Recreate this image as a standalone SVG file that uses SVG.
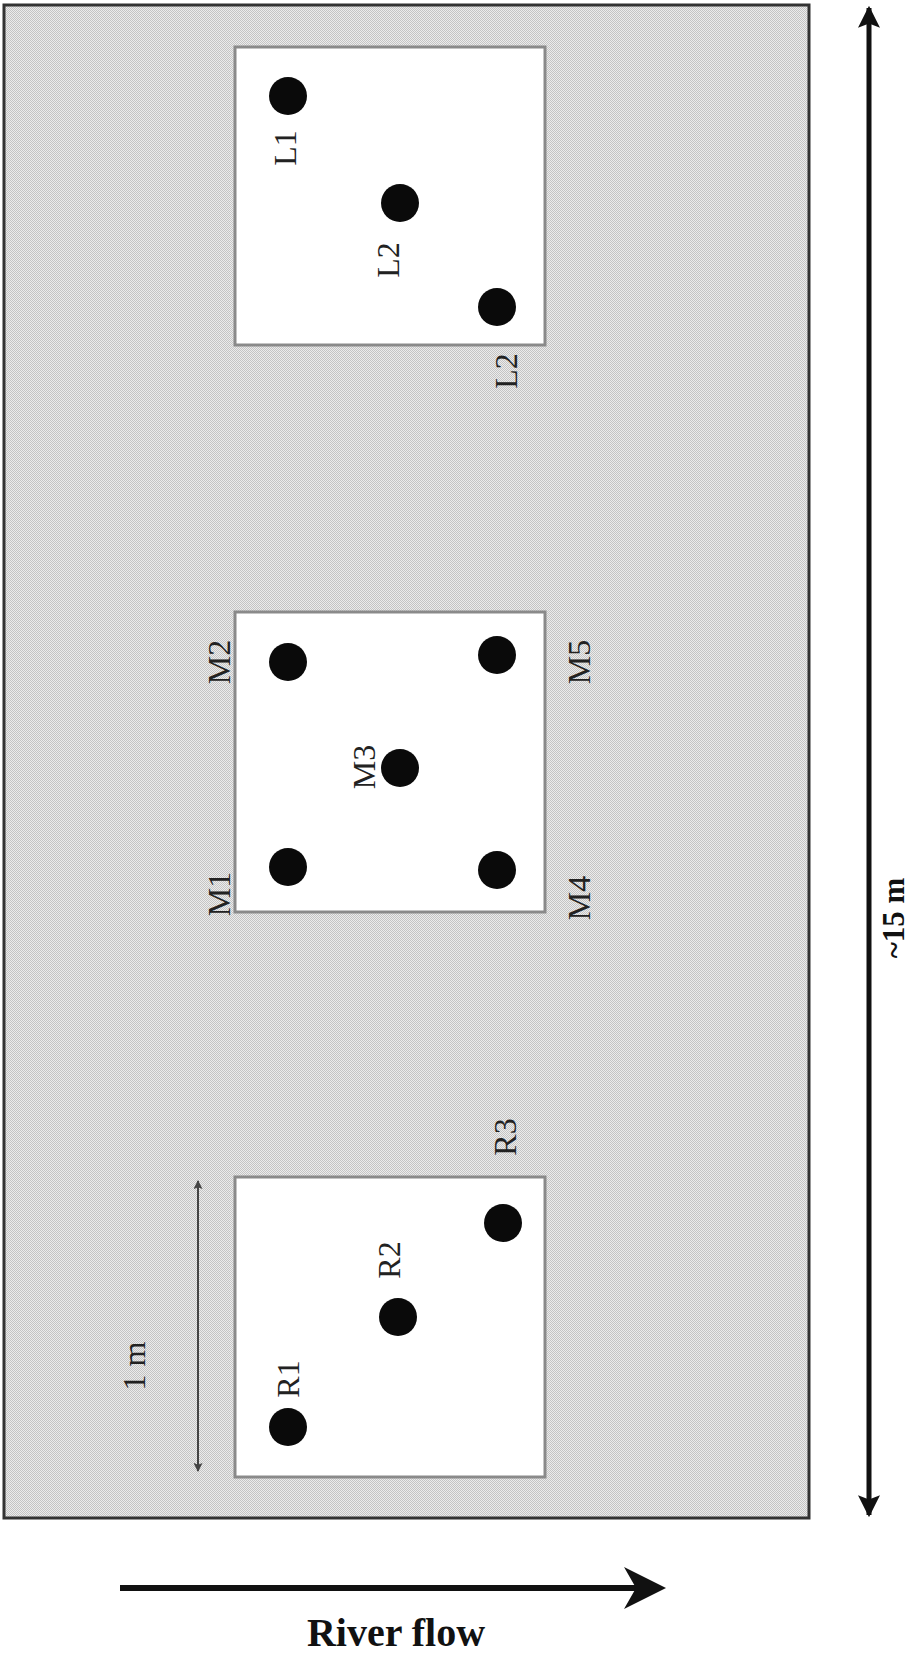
<svg xmlns="http://www.w3.org/2000/svg" width="916" height="1657" viewBox="0 0 916 1657">
<style>
.lbl{font-family:"Liberation Serif","Times New Roman",serif;font-size:32px;fill:#222;text-anchor:middle;dominant-baseline:central}
.bold{font-family:"Liberation Serif","Times New Roman",serif;font-weight:bold;fill:#111;text-anchor:middle;dominant-baseline:central}
.plot{fill:#fff;stroke:#8a8a8a;stroke-width:3}
.dot{fill:#0a0a0a}
</style>
<defs>
<pattern id="dither" width="2" height="2" patternUnits="userSpaceOnUse">
<rect width="2" height="2" fill="#ececec"/>
<rect width="1" height="1" fill="#c4c4c4"/>
<rect x="1" y="1" width="1" height="1" fill="#c4c4c4"/>
</pattern>
<marker id="bigHead" viewBox="0 0 10 10" refX="9" refY="5" markerWidth="4.4" markerHeight="4.4" orient="auto-start-reverse" markerUnits="strokeWidth">
<path d="M0,0 L10,5 L0,10 L2,5 Z" fill="#111"/>
</marker>
<marker id="smallHead" viewBox="0 0 10 10" refX="9" refY="5" markerWidth="5" markerHeight="4.5" orient="auto-start-reverse" markerUnits="strokeWidth">
<path d="M0,0 L10,5 L0,10 L2,5 Z" fill="#444"/>
</marker>
</defs>

<g id="channel">
<rect x="4" y="5" width="805" height="1513" fill="url(#dither)" stroke="#333" stroke-width="3"/>
</g>

<g id="plot-L">
<rect class="plot" x="235" y="47" width="310" height="298"/>
<circle class="dot" cx="288" cy="96" r="19"/>
<circle class="dot" cx="400" cy="203" r="19"/>
<circle class="dot" cx="497" cy="307" r="19"/>
<text class="lbl" transform="translate(285,148) rotate(-90)">L1</text>
<text class="lbl" transform="translate(388,260) rotate(-90)">L2</text>
<text class="lbl" transform="translate(506,371) rotate(-90)">L2</text>
</g>

<g id="plot-M">
<rect class="plot" x="235" y="612" width="310" height="300"/>
<circle class="dot" cx="288" cy="662" r="19"/>
<circle class="dot" cx="497" cy="655" r="19"/>
<circle class="dot" cx="400" cy="768" r="19"/>
<circle class="dot" cx="288" cy="867" r="19"/>
<circle class="dot" cx="497" cy="870" r="19"/>
<text class="lbl" transform="translate(219,662) rotate(-90)">M2</text>
<text class="lbl" transform="translate(219,894) rotate(-90)">M1</text>
<text class="lbl" transform="translate(364,767) rotate(-90)">M3</text>
<text class="lbl" transform="translate(579,662) rotate(-90)">M5</text>
<text class="lbl" transform="translate(579,898) rotate(-90)">M4</text>
</g>

<g id="plot-R">
<rect class="plot" x="235" y="1177" width="310" height="300"/>
<circle class="dot" cx="288" cy="1427" r="19"/>
<circle class="dot" cx="398" cy="1317" r="19"/>
<circle class="dot" cx="503" cy="1223" r="19"/>
<text class="lbl" transform="translate(288,1379) rotate(-90)">R1</text>
<text class="lbl" transform="translate(389,1260) rotate(-90)">R2</text>
<text class="lbl" transform="translate(505,1137) rotate(-90)">R3</text>
</g>

<g id="connectors">
<line x1="869" y1="8" x2="869" y2="1515" stroke="#111" stroke-width="5" marker-start="url(#bigHead)" marker-end="url(#bigHead)"/>
<line x1="198" y1="1181" x2="198" y2="1471" stroke="#444" stroke-width="2" marker-start="url(#smallHead)" marker-end="url(#smallHead)"/>
<line x1="120" y1="1588" x2="640" y2="1588" stroke="#111" stroke-width="6"/>
<path d="M666,1588 L624,1567 L636,1588 L624,1609 Z" fill="#111"/>
</g>

<g id="labels">
<text class="lbl" transform="translate(134,1366) rotate(-90)">1 m</text>
<text class="bold" font-size="31" transform="translate(893,918) rotate(-90)">~15 m</text>
<text class="bold" font-size="40" x="396" y="1632">River flow</text>
</g>
</svg>
